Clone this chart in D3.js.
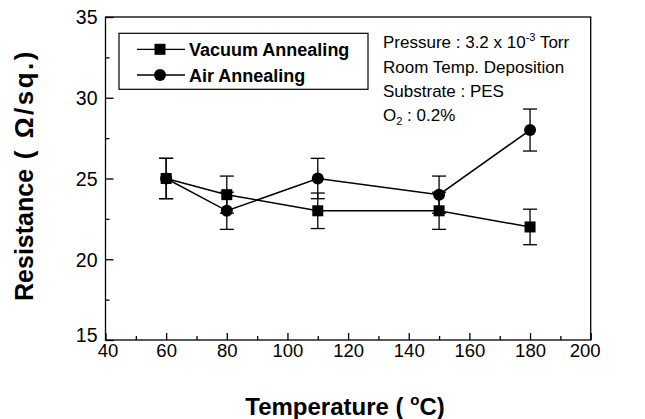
<!DOCTYPE html>
<html>
<head>
<meta charset="utf-8">
<script src="https://cdn.jsdelivr.net/npm/d3@7"></script>
<style>
  html, body { margin: 0; padding: 0; background: #fff; }
  svg text { font-family: "Liberation Sans", Arial, sans-serif; fill: #000; }
</style>
</head>
<body>
<svg id="chart" width="645" height="419"></svg>
<script>
// Sheet resistance vs. annealing temperature
const temps = [60, 80, 110, 150, 180];
const vacuum = [25, 24, 23, 23, 22];
const vacuumErr = [1.25, 1.15, 1.1, 1.15, 1.1];
const air = [25, 23, 25, 24, 28];
const airErr = [1.25, 1.15, 1.25, 1.15, 1.3];

const xTicks = [40, 60, 80, 100, 120, 140, 160, 180, 200];
const xMinor = [50, 70, 90, 110, 130, 150, 170, 190];
const yTicks = [15, 20, 25, 30, 35];
const yMinor = [17.5, 22.5, 27.5, 32.5];

const seriesNames = ["Vacuum Annealing", "Air Annealing"];

const svg = d3.select("#chart");
const plotL = 105.5, plotR = 590.7, plotT = 17, plotB = 340;

const x = d3.scaleLinear().domain([40, 200]).range([plotL, plotR]);
const y = d3.scaleLinear().domain([15, 35]).range([plotB, plotT]);

// Frame
svg.append("rect")
  .attr("x", plotL).attr("y", plotT)
  .attr("width", plotR - plotL).attr("height", plotB - plotT)
  .attr("fill", "none").attr("stroke", "#000").attr("stroke-width", 1.3);

// Bottom axis: inward ticks
const xAxis = svg.append("g").attr("transform", `translate(0,${plotB})`)
  .call(d3.axisBottom(x).tickValues(xTicks).tickSize(-7).tickPadding(3).tickFormat(d3.format("d")));
xAxis.select(".domain").remove();
xAxis.selectAll(".tick line").attr("stroke-width", 1.3);
xAxis.selectAll(".tick text").attr("font-size", 18.5).attr("dy", "0.73em")
  .attr("dx", d => d === 40 ? 2 : d === 200 ? -6 : 0);
svg.append("g").attr("transform", `translate(0,${plotB})`)
  .call(d3.axisBottom(x).tickValues(xMinor).tickSize(-4).tickFormat(""))
  .call(g => g.select(".domain").remove())
  .selectAll(".tick line").attr("stroke-width", 1.3);

// Left axis: inward ticks
const yAxis = svg.append("g").attr("transform", `translate(${plotL},0)`)
  .call(d3.axisLeft(y).tickValues(yTicks).tickSize(-8).tickPadding(8));
yAxis.select(".domain").remove();
yAxis.selectAll(".tick line").attr("stroke-width", 1.3);
yAxis.selectAll(".tick text").attr("font-size", 19.5)
  .attr("dy", d => d === 15 ? "0.1em" : "0.35em");
svg.append("g").attr("transform", `translate(${plotL},0)`)
  .call(d3.axisLeft(y).tickValues(yMinor).tickSize(-4).tickFormat(""))
  .call(g => g.select(".domain").remove())
  .selectAll(".tick line").attr("stroke-width", 1.3);

// Axis titles
const xt = svg.append("text").attr("x", 345).attr("y", 415)
  .attr("text-anchor", "middle").attr("font-size", 24).attr("font-weight", "bold");
xt.append("tspan").text("Temperature ( ");
xt.append("tspan").attr("font-size", 15).attr("dy", -10).text("o");
xt.append("tspan").attr("dy", 10).text("C)");

const yt = svg.append("text")
  .attr("transform", "translate(33,175) rotate(-90)")
  .attr("text-anchor", "middle").attr("font-size", 25).attr("font-weight", "bold");
yt.append("tspan").text("Resistance");
yt.append("tspan").attr("font-size", 26).attr("letter-spacing", 2.5).text(" ( \u03A9/sq.)");

// Series
const series = [
  { name: seriesNames[0], vals: vacuum, err: vacuumErr, shape: "square" },
  { name: seriesNames[1], vals: air, err: airErr, shape: "circle" }
];

const line = d3.line().x(d => x(d[0])).y(d => y(d[1]));

series.forEach(s => {
  const pts = temps.map((t, i) => [t, s.vals[i], s.err[i]]);
  svg.append("path").datum(pts).attr("d", line)
    .attr("fill", "none").attr("stroke", "#000").attr("stroke-width", 1.5);

  const eb = svg.append("g").attr("stroke", "#000").attr("stroke-width", 1.3);
  pts.forEach(p => {
    const cx = x(p[0]), y1 = y(p[1] + p[2]), y0 = y(p[1] - p[2]);
    eb.append("line").attr("x1", cx).attr("x2", cx).attr("y1", y1).attr("y2", y0);
    eb.append("line").attr("x1", cx - 7).attr("x2", cx + 7).attr("y1", y1).attr("y2", y1);
    eb.append("line").attr("x1", cx - 7).attr("x2", cx + 7).attr("y1", y0).attr("y2", y0);
  });
});

function drawMarker(g, shape, cx, cy) {
  if (shape === "square") {
    g.append("rect").attr("x", cx - 5.5).attr("y", cy - 5.5)
      .attr("width", 11).attr("height", 11).attr("fill", "#000");
  } else {
    g.append("circle").attr("cx", cx).attr("cy", cy).attr("r", 6).attr("fill", "#000");
  }
}

series.forEach(s => {
  const g = svg.append("g");
  temps.forEach((t, i) => drawMarker(g, s.shape, x(t), y(s.vals[i])));
});

// Legend
const lg = svg.append("g");
lg.append("rect").attr("x", 119).attr("y", 33.3).attr("width", 249).attr("height", 56)
  .attr("fill", "#fff").attr("stroke", "#000").attr("stroke-width", 1.2);
series.forEach((s, i) => {
  const cy = 49.3 + i * 25.7;
  lg.append("line").attr("x1", 137).attr("x2", 185).attr("y1", cy).attr("y2", cy)
    .attr("stroke", "#000").attr("stroke-width", 1.3);
  drawMarker(lg, s.shape, 160, cy);
  lg.append("text").attr("x", 189).attr("y", cy + 6.5)
    .attr("font-size", 18).attr("font-weight", "bold").text(s.name);
});

// Deposition conditions
const notes = svg.append("g").attr("font-size", 17);
const n1 = notes.append("text").attr("x", 383).attr("y", 48.3);
n1.append("tspan").text("Pressure : 3.2 x 10");
n1.append("tspan").attr("font-size", 11).attr("dy", -7).text("-3");
n1.append("tspan").attr("dy", 7).text(" Torr");
notes.append("text").attr("x", 383).attr("y", 73.3).text("Room Temp. Deposition");
notes.append("text").attr("x", 383).attr("y", 96.7).text("Substrate : PES");
const n4 = notes.append("text").attr("x", 383).attr("y", 120.7);
n4.append("tspan").text("O");
n4.append("tspan").attr("font-size", 11).attr("dy", 4).text("2");
n4.append("tspan").attr("dy", -4).text(" : 0.2%");
</script>
</body>
</html>
